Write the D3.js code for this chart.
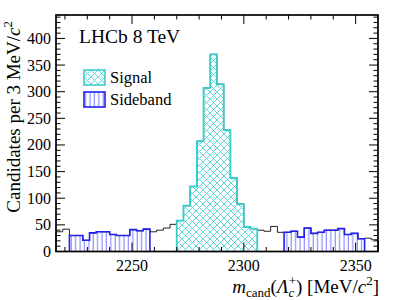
<!DOCTYPE html>
<html>
<head>
  <meta charset="utf-8" />
  <title>LHCb 8 TeV</title>
  <style>
    body { margin: 0; background: #fff; }
    text { font-family: "Liberation Serif", "DejaVu Serif", serif; fill: #000; }
  </style>
  <script src="https://cdnjs.cloudflare.com/ajax/libs/d3/7.8.5/d3.min.js"></script>
</head>
<body>
  <div id="chartArea"></div>
  <script>
    // histogram, 3 MeV bins from 2216 to 2360
    var binStart = 2216, binWidth = 3;
    var counts = [37, 42, 30, 30, 21, 35, 37, 37, 32, 30, 30, 41, 39, 42, 37, 40,
                  44, 51, 58, 86, 122, 207, 307, 370, 314, 228, 138, 89, 46, 43, 40, 38,
                  47, 36, 36, 38, 27, 44, 34, 36, 40, 40, 43, 32, 34, 24, 25, 22];
    var signalRange = [2270, 2306];
    var sidebandRanges = [[2222, 2258], [2318, 2354]];
    var xTicks = [2250, 2300, 2350];
    var yTicks = [0, 50, 100, 150, 200, 250, 300, 350, 400];

    var W = 399, H = 300;
    var margin = { top: 15, right: 21, bottom: 48.5, left: 56 };
    var w = W - margin.left - margin.right,
      h = H - margin.top - margin.bottom;

    var xScale = d3.scaleLinear().domain([2216, 2360]).range([0, w]);
    var yScale = d3.scaleLinear().domain([0, 444]).range([h, 0]);

    var svg = d3.select('#chartArea').append('svg')
      .attr('width', W)
      .attr('height', H);

    var defs = svg.append('defs');
    var cross = defs.append('pattern')
      .attr('id', 'cross')
      .attr('patternUnits', 'userSpaceOnUse')
      .attr('width', 7).attr('height', 7);
    cross.append('path')
      .attr('d', 'M0,0L7,7M7,0L0,7M-1,6L1,8M6,-1L8,1M-1,1L1,-1M6,8L8,6')
      .attr('stroke', '#4fd3d3').attr('stroke-width', 0.9);
    var vert = defs.append('pattern')
      .attr('id', 'vert')
      .attr('patternUnits', 'userSpaceOnUse')
      .attr('width', 4.4).attr('height', 10);
    vert.append('path')
      .attr('d', 'M2,0V10')
      .attr('stroke', '#7a7aff').attr('stroke-width', 1);

    var g = svg.append('g')
      .attr('transform', 'translate(' + margin.left + ',' + margin.top + ')');

    var bins = counts.map(function (c, i) {
      return { x0: binStart + i * binWidth, x1: binStart + (i + 1) * binWidth, n: c };
    });

    function stepPath(sel, closed) {
      var p = 'M' + xScale(sel[0].x0) + ',' + yScale(0);
      sel.forEach(function (b) {
        p += 'L' + xScale(b.x0) + ',' + yScale(b.n) + 'L' + xScale(b.x1) + ',' + yScale(b.n);
      });
      p += 'L' + xScale(sel[sel.length - 1].x1) + ',' + yScale(0);
      if (closed) p += 'Z';
      return p;
    }
    function inRange(r) {
      return bins.filter(function (b) { return b.x0 >= r[0] - 0.01 && b.x1 <= r[1] + 0.01; });
    }

    // full histogram, black outline
    g.append('path')
      .attr('d', stepPath(bins, false))
      .attr('fill', 'none')
      .attr('stroke', '#222')
      .attr('stroke-width', 1);

    // sidebands
    sidebandRanges.forEach(function (r) {
      var sel = inRange(r);
      g.append('path').attr('d', stepPath(sel, true)).attr('fill', 'url(#vert)');
      g.append('path').attr('d', stepPath(sel, false))
        .attr('fill', 'none').attr('stroke', '#2020f0').attr('stroke-width', 1.6);
    });

    // signal
    var sig = inRange(signalRange);
    g.append('path').attr('d', stepPath(sig, true)).attr('fill', 'url(#cross)');
    g.append('path').attr('d', stepPath(sig, false))
      .attr('fill', 'none').attr('stroke', '#3ccccc').attr('stroke-width', 1.8);

    // axes with inward ticks on all four sides
    var yMinor = d3.range(0, 445, 10);
    var xMinor = d3.range(2220, 2361, 10);
    var frame = g.append('g').attr('stroke', '#000').attr('stroke-width', 1);
    yMinor.forEach(function (v) {
      var len = v % 50 === 0 ? 9 : 4.5;
      var y = yScale(v);
      frame.append('line').attr('x1', 0).attr('x2', len).attr('y1', y).attr('y2', y);
      frame.append('line').attr('x1', w).attr('x2', w - len).attr('y1', y).attr('y2', y);
    });
    xMinor.forEach(function (v) {
      var len = v % 50 === 0 ? 9 : 4.5;
      var x = xScale(v);
      frame.append('line').attr('x1', x).attr('x2', x).attr('y1', h).attr('y2', h - len);
      frame.append('line').attr('x1', x).attr('x2', x).attr('y1', 0).attr('y2', len);
    });
    g.append('rect')
      .attr('width', w).attr('height', h)
      .attr('fill', 'none').attr('stroke', '#000').attr('stroke-width', 1.7);

    g.selectAll('.ylab')
      .data(yTicks)
      .enter()
      .append('text')
      .attr('class', 'ylab')
      .attr('x', -5)
      .attr('y', d => yScale(d) + 5.5)
      .attr('text-anchor', 'end')
      .attr('font-size', 16)
      .text(d => d);

    g.selectAll('.xlab')
      .data(xTicks)
      .enter()
      .append('text')
      .attr('class', 'xlab')
      .attr('x', d => xScale(d))
      .attr('y', h + 19)
      .attr('text-anchor', 'middle')
      .attr('font-size', 16)
      .text(d => d);

    // axis titles
    var xt = svg.append('text')
      .attr('x', 379).attr('y', 293)
      .attr('text-anchor', 'end')
      .attr('font-size', 19);
    xt.append('tspan').attr('font-style', 'italic').text('m');
    xt.append('tspan').attr('font-size', 13).attr('dy', 4).text('cand');
    xt.append('tspan').attr('dy', -4).text('(');
    xt.append('tspan').attr('font-style', 'italic').text('Λ');
    xt.append('tspan').attr('font-size', 13).attr('font-style', 'italic').attr('dy', 4).text('c');
    xt.append('tspan').attr('font-size', 13).attr('dx', -5.5).attr('dy', -12).text('+');
    xt.append('tspan').attr('dy', 8).text(') [MeV/');
    xt.append('tspan').attr('font-style', 'italic').text('c');
    xt.append('tspan').attr('font-size', 13).attr('dy', -8).text('2');
    xt.append('tspan').attr('dy', 8).text(']');

    var yt = svg.append('text')
      .attr('transform', 'translate(20,21) rotate(-90)')
      .attr('text-anchor', 'end')
      .attr('font-size', 19);
    yt.append('tspan').text('Candidates per 3 MeV/');
    yt.append('tspan').attr('font-style', 'italic').text('c');
    yt.append('tspan').attr('font-size', 13).attr('dy', -8).text('2');

    // label and legend
    svg.append('text')
      .attr('x', 79).attr('y', 43)
      .attr('font-size', 19.5)
      .text('LHCb 8 TeV');

    var legend = [
      { label: 'Signal', fill: 'url(#cross)', stroke: '#3ccccc', y: 70 },
      { label: 'Sideband', fill: 'url(#vert)', stroke: '#2020f0', y: 92 }
    ];
    legend.forEach(function (d) {
      svg.append('rect')
        .attr('x', 84).attr('y', d.y)
        .attr('width', 21).attr('height', 15)
        .attr('fill', d.fill)
        .attr('stroke', d.stroke).attr('stroke-width', 1.6);
      svg.append('text')
        .attr('x', 110).attr('y', d.y + 13)
        .attr('font-size', 16.5)
        .text(d.label);
    });
  </script>
</body>
</html>
